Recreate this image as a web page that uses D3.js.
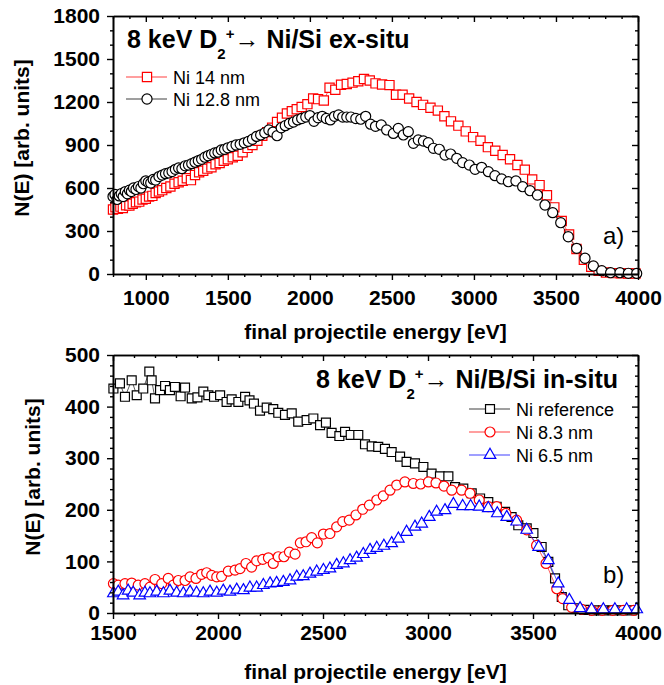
<!DOCTYPE html>
<html><head><meta charset="utf-8">
<script src="https://cdn.jsdelivr.net/npm/d3@7"></script>
<style>body{margin:0;background:#fff} svg{display:block}</style>
</head><body>
<svg id="c" width="664" height="685"></svg>
<script>
// ---------- DATA ----------
// Panel a) 8 keV D2+ -> Ni/Si ex-situ : [energy eV, N(E)]
const ni14 = [[800,450],[815,465],[830,455],[845,470],[860,460],[880,480],[900,478],[920,490],[940,500],[960,505],[980,520],[1000,525],[1020,540],[1040,545],[1060,565],[1080,575],[1100,585],[1125,600],[1150,610],[1175,630],[1200,640],[1225,650],[1250,668],[1275,655],[1300,690],[1325,710],[1350,720],[1375,735],[1400,745],[1425,765],[1450,775],[1475,790],[1500,800],[1530,815],[1560,825],[1590,850],[1620,880],[1650,900],[1680,930],[1710,965],[1740,990],[1770,1020],[1800,1060],[1830,1090],[1860,1120],[1890,1135],[1920,1150],[1950,1165],[1985,1185],[2020,1225],[2050,1220],[2085,1210],[2120,1300],[2155,1285],[2190,1320],[2225,1325],[2260,1335],[2295,1345],[2330,1360],[2365,1350],[2400,1330],[2440,1322],[2485,1318],[2525,1250],[2565,1250],[2605,1225],[2650,1200],[2690,1180],[2735,1160],[2780,1140],[2820,1100],[2860,1065],[2905,1035],[2950,995],[2995,955],[3040,930],[3085,885],[3130,860],[3175,830],[3220,800],[3265,760],[3310,728],[3355,660],[3400,620],[3445,550],[3490,465],[3535,370],[3580,275],[3625,175],[3670,100],[3715,50],[3760,22],[3805,10],[3850,6],[3895,5],[3940,4],[3985,3]];
const ni128 = [[800,540],[812,555],[825,520],[838,545],[850,560],[862,540],[875,575],[888,560],[900,585],[912,575],[925,600],[940,590],[955,610],[970,600],[985,630],[1000,650],[1015,640],[1030,635],[1045,660],[1060,655],[1080,680],[1100,690],[1120,700],[1140,705],[1160,715],[1180,730],[1200,740],[1220,735],[1240,755],[1260,760],[1280,770],[1300,780],[1320,790],[1340,800],[1360,815],[1380,825],[1400,835],[1420,845],[1440,850],[1460,865],[1480,870],[1500,880],[1525,890],[1550,900],[1575,905],[1600,915],[1625,925],[1650,940],[1675,960],[1700,970],[1725,985],[1750,1005],[1775,990],[1800,965],[1825,1020],[1850,1035],[1875,1050],[1900,1060],[1925,1075],[1950,1085],[1975,1095],[2000,1105],[2025,1065],[2050,1090],[2075,1100],[2100,1085],[2125,1075],[2150,1100],[2175,1110],[2200,1095],[2225,1095],[2250,1095],[2280,1085],[2310,1080],[2340,1100],[2370,1045],[2400,1030],[2435,1040],[2468,1005],[2509,981],[2539,1016],[2570,970],[2600,993],[2631,912],[2661,935],[2692,928],[2722,916],[2753,877],[2789,870],[2824,830],[2858,837],[2895,807],[2931,777],[2972,760],[3007,730],[3047,744],[3088,714],[3128,686],[3169,663],[3210,644],[3256,649],[3297,609],[3342,581],[3387,551],[3433,481],[3480,428],[3529,358],[3575,260],[3626,179],[3677,110],[3728,56],[3779,23],[3833,9],[3890,9],[3941,5],[3992,4]];
// Panel b) 8 keV D2+ -> Ni/B/Si in-situ
const niRef = [[1502,435],[1533,445],[1557,419],[1589,451],[1613,422],[1644,435],[1673,468],[1684,451],[1700,416],[1724,432],[1748,440],[1771,432],[1795,438],[1822,420],[1843,437],[1875,416],[1902,418],[1930,429],[1954,422],[1981,419],[2010,422],[2041,409],[2065,414],[2097,409],[2129,419],[2150,412],[2171,406],[2200,392],[2232,398],[2263,395],[2287,388],[2319,384],[2351,387],[2382,371],[2422,374],[2454,377],[2486,364],[2514,369],[2541,349],[2578,343],[2605,351],[2632,345],[2668,345],[2700,327],[2732,323],[2763,322],[2795,318],[2827,312],[2867,303],[2898,293],[2938,290],[2978,283],[3017,270],[3057,265],[3097,265],[3129,244],[3168,241],[3208,232],[3248,222],[3287,215],[3327,206],[3367,196],[3398,186],[3430,170],[3470,164],[3502,155],[3541,128],[3573,99],[3605,67],[3637,31],[3668,15],[3708,9],[3745,6],[3790,5],[3835,5],[3880,5],[3925,5],[3970,5]];
const ni83 = [[1502,57],[1525,54],[1557,57],[1589,58],[1620,54],[1652,57],[1676,50],[1700,65],[1732,57],[1763,67],[1787,54],[1811,63],[1843,63],[1867,70],[1895,67],[1922,75],[1946,78],[1970,73],[1994,70],[2017,71],[2049,81],[2081,83],[2105,86],[2133,96],[2160,89],[2184,101],[2213,104],[2240,107],[2263,96],[2287,109],[2314,109],[2340,118],[2367,114],[2392,136],[2419,138],[2446,146],[2473,136],[2502,153],[2533,154],[2565,167],[2594,177],[2625,180],[2657,190],[2689,201],[2721,209],[2756,219],[2787,227],[2819,238],[2851,248],[2890,254],[2930,251],[2965,250],[3002,254],[3038,252],[3076,246],[3113,238],[3160,238],[3200,232],[3244,219],[3287,206],[3327,206],[3371,193],[3422,180],[3470,161],[3517,131],[3562,96],[3613,47],[3641,28],[3684,11],[3732,7],[3780,5],[3830,5],[3880,5],[3930,5],[3980,5]];
const ni65 = [[1502,38],[1525,41],[1548,34],[1572,43],[1596,39],[1627,34],[1652,39],[1676,38],[1708,41],[1740,38],[1771,43],[1803,39],[1835,38],[1867,41],[1898,39],[1930,38],[1962,41],[1994,39],[2025,43],[2057,41],[2089,45],[2121,44],[2152,49],[2184,49],[2216,54],[2248,57],[2279,58],[2311,60],[2343,63],[2375,70],[2406,71],[2438,76],[2470,80],[2502,83],[2533,86],[2565,93],[2597,96],[2629,102],[2660,107],[2692,114],[2724,122],[2756,126],[2790,130],[2827,135],[2859,144],[2898,157],[2938,167],[2970,173],[3006,186],[3041,196],[3081,199],[3121,211],[3165,207],[3203,207],[3244,206],[3287,203],[3330,193],[3375,186],[3422,177],[3470,161],[3527,128],[3573,102],[3620,57],[3673,25],[3724,9],[3779,7],[3835,7],[3890,7],[3946,7],[3994,7]];

// tick labels
const topXTicks = [1000,1500,2000,2500,3000,3500,4000];
const topYTicks = [0,300,600,900,1200,1500,1800];
const botXTicks = [1500,2000,2500,3000,3500,4000];
const botYTicks = [0,100,200,300,400,500];

// ---------- DRAW ----------
const FONT = "'Liberation Sans', Arial, Helvetica, sans-serif";
const svg = d3.select("#c");

const xTop = d3.scaleLinear().domain([800,4000]).range([113,638]);
const yTop = d3.scaleLinear().domain([0,1800]).range([274,16]);
const xBot = d3.scaleLinear().domain([1500,4000]).range([113,638]);
const yBot = d3.scaleLinear().domain([0,500]).range([613,355]);

function styleAxis(g){
  g.attr("font-family",FONT).attr("font-size",21).attr("font-weight","bold");
  g.selectAll("path.domain").attr("stroke","#000").attr("stroke-width",1.6);
  g.selectAll("line").attr("stroke","#000").attr("stroke-width",1.4);
  g.selectAll("text").attr("fill","#000");
}

function drawAxes(x,y,xMajor,yMajor,xStep,yStep,xPad){
  const [x0,x1]=x.domain(), [y0,y1]=y.domain();
  const xMinor=d3.range(x0,x1+1e-6,xStep).filter(v=>!xMajor.includes(v));
  const yMinor=d3.range(y0,y1+1e-6,yStep).filter(v=>!yMajor.includes(v));
  const yb=y.range()[0], yt=y.range()[1], xl=x.range()[0], xr=x.range()[1];
  const f=d3.format("d");
  svg.append("g").attr("transform",`translate(0,${yb})`).call(d3.axisBottom(x).tickValues(xMinor).tickSize(3).tickSizeOuter(0).tickFormat("")).call(styleAxis);
  svg.append("g").attr("transform",`translate(0,${yb})`).call(d3.axisBottom(x).tickValues(xMajor).tickSize(6).tickSizeOuter(0).tickPadding(xPad).tickFormat(f)).call(styleAxis);
  svg.append("g").attr("transform",`translate(0,${yt})`).call(d3.axisTop(x).tickValues(xMinor).tickSize(-3).tickSizeOuter(0).tickFormat("")).call(styleAxis);
  svg.append("g").attr("transform",`translate(0,${yt})`).call(d3.axisTop(x).tickValues(xMajor).tickSize(-6).tickSizeOuter(0).tickFormat("")).call(styleAxis);
  svg.append("g").attr("transform",`translate(${xl},0)`).call(d3.axisLeft(y).tickValues(yMinor).tickSize(3).tickSizeOuter(0).tickFormat("")).call(styleAxis);
  svg.append("g").attr("transform",`translate(${xl},0)`).call(d3.axisLeft(y).tickValues(yMajor).tickSize(6).tickSizeOuter(0).tickPadding(7).tickFormat(f)).call(styleAxis);
  svg.append("g").attr("transform",`translate(${xr},0)`).call(d3.axisRight(y).tickValues(yMinor).tickSize(-3).tickSizeOuter(0).tickFormat("")).call(styleAxis);
  svg.append("g").attr("transform",`translate(${xr},0)`).call(d3.axisRight(y).tickValues(yMajor).tickSize(-6).tickSizeOuter(0).tickFormat("")).call(styleAxis);
}

function series(x,y,data,color,symType,size){
  const g=svg.append("g");
  g.append("path").datum(data)
    .attr("d",d3.line().x(d=>x(d[0])).y(d=>y(d[1])))
    .attr("fill","none").attr("stroke",color).attr("stroke-width",0.8).attr("stroke-opacity",0.8);
  const sym=d3.symbol().type(symType).size(size);
  g.selectAll("path.m").data(data).join("path").attr("class","m")
    .attr("transform",d=>`translate(${x(d[0])},${y(d[1])})`)
    .attr("d",sym).attr("fill","#fff").attr("stroke",color).attr("stroke-width",1.2);
}

function legendRow(x0,x1,xm,yy,xt,label,color,symType,size){
  svg.append("line").attr("x1",x0).attr("x2",x1).attr("y1",yy).attr("y2",yy)
    .attr("stroke",color).attr("stroke-width",1.2).attr("stroke-opacity",0.75);
  svg.append("path").attr("transform",`translate(${xm},${yy})`)
    .attr("d",d3.symbol().type(symType).size(size)).attr("fill","#fff").attr("stroke",color).attr("stroke-width",1.2);
  svg.append("text").attr("x",xt).attr("y",yy+6.5).attr("font-family",FONT).attr("font-size",18).attr("fill","#000").text(label);
}

function title(x,y,rest,anchorEnd){
  const t=svg.append("text").attr("x",x).attr("y",y).attr("font-family",FONT).attr("font-size",25).attr("font-weight","bold").attr("fill","#000");
  t.append("tspan").text("8 keV D");
  t.append("tspan").attr("font-size",15).attr("dy",11).text("2");
  t.append("tspan").attr("font-size",15).attr("dy",-20).text("+");
  t.append("tspan").attr("font-weight","normal").attr("dy",9).text("\u2192");
  t.append("tspan").text(rest);
  if(anchorEnd){ const w=t.node().getComputedTextLength(); t.attr("x",x-w); }
}

function xTitle(y){
  svg.append("text").attr("x",375.5).attr("y",y).attr("text-anchor","middle").attr("font-family",FONT)
    .attr("font-size",21).attr("font-weight","bold").attr("fill","#000").text("final projectile energy [eV]");
}
function yTitle(x,cy){
  svg.append("text").attr("transform",`translate(${x},${cy}) rotate(-90)`).attr("text-anchor","middle").attr("font-family",FONT)
    .attr("font-size",21).attr("font-weight","bold").attr("fill","#000").text("N(E) [arb. units]");
}

// ---- panel a ----
series(xTop,yTop,ni14,"#ff0000",d3.symbolSquare,85);
series(xTop,yTop,ni128,"#000000",d3.symbolCircle,80);
drawAxes(xTop,yTop,topXTicks,topYTicks,100,100,10);
title(127,48," Ni/Si ex-situ",false);
legendRow(126,167,147,77,173,"Ni 14 nm","#ff0000",d3.symbolSquare,85);
legendRow(126,167,147,99,173,"Ni 12.8 nm","#000000",d3.symbolCircle,80);
svg.append("text").attr("x",603).attr("y",244).attr("font-family",FONT).attr("font-size",24).attr("fill","#000").text("a)");
xTitle(339);
yTitle(29,138);

// ---- panel b ----
series(xBot,yBot,niRef,"#000000",d3.symbolSquare,80);
series(xBot,yBot,ni83,"#ff0000",d3.symbolCircle,78);
series(xBot,yBot,ni65,"#0000ff",d3.symbolTriangle,58);
drawAxes(xBot,yBot,botXTicks,botYTicks,100,20,6);
title(618,388," Ni/B/Si in-situ",true);
legendRow(469,510,490,409,516,"Ni reference","#000000",d3.symbolSquare,80);
legendRow(469,510,490,432,516,"Ni 8.3 nm","#ff0000",d3.symbolCircle,78);
legendRow(469,510,490,455,516,"Ni 6.5 nm","#0000ff",d3.symbolTriangle,58);
svg.append("text").attr("x",603).attr("y",583).attr("font-family",FONT).attr("font-size",24).attr("fill","#000").text("b)");
xTitle(679);
yTitle(40,477);
</script>
</body></html>
